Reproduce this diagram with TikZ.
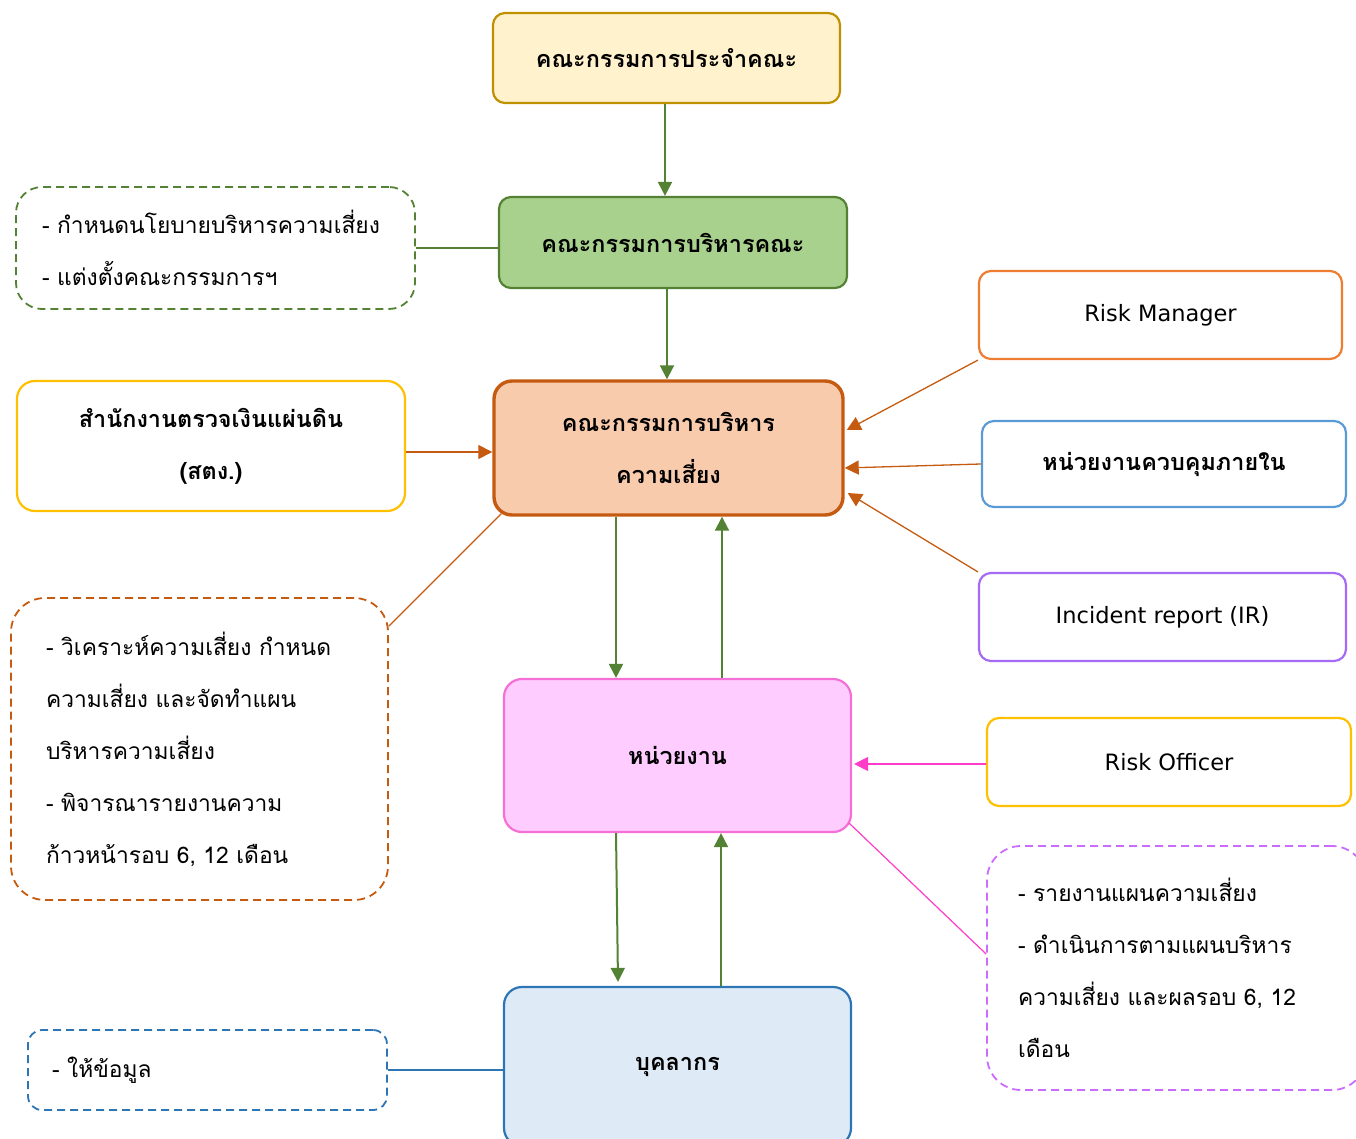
\documentclass[tikz,border=0pt]{standalone}
\usepackage{fontspec}
\setmainfont[Script=Thai]{Loma}
\newfontfamily\latinfont{DejaVu Sans}
\usetikzlibrary{arrows.meta,calc}
\definecolor{goldB}{HTML}{BF9000}
\definecolor{goldF}{HTML}{FFF2CC}
\definecolor{grnB}{HTML}{548235}
\definecolor{grnF}{HTML}{A9D18E}
\definecolor{orgD}{HTML}{C55A11}
\definecolor{orgF}{HTML}{F8CBAD}
\definecolor{yel}{HTML}{FFC000}
\definecolor{org}{HTML}{ED7D31}
\definecolor{blu}{HTML}{5B9BD5}
\definecolor{pur}{HTML}{A66BF5}
\definecolor{pnkF}{HTML}{FFCCFF}
\definecolor{pnkB}{HTML}{F46FD6}
\definecolor{pnkA}{HTML}{FF3CC8}
\definecolor{purD}{HTML}{CC6CFF}
\definecolor{bluF}{HTML}{DEEBF7}
\definecolor{bluB}{HTML}{2E75B6}
\tikzset{
  box/.style={draw, rounded corners=12pt, line width=2.2pt, align=center,
    font=\fontsize{22.8}{52}\selectfont, inner sep=0pt},
  bbox/.style={box, font=\fontsize{23.4}{52}\selectfont\bfseries},
  lbox/.style={box, font=\fontsize{22.5}{52}\selectfont\latinfont},
  dbox/.style={draw, dash pattern=on 8pt off 5pt, rounded corners=26pt, line width=1.8pt,
    align=left, font=\fontsize{22.8}{52}\selectfont, inner xsep=0pt, inner ysep=0pt},
  arr/.style={-{Triangle[length=14pt,width=14pt]}, line width=2pt},
  link/.style={line width=1.2pt}
}
\begin{document}
\begin{tikzpicture}[x=1pt,y=-1pt]
\useasboundingbox (0,0) rectangle (1356,1139);
\clip (0,0) rectangle (1356,1139);
% main column
\node[bbox, draw=goldB, fill=goldF, minimum width=347pt, minimum height=90pt] (top) at (666.5,58) {คณะกรรมการประจำคณะ};
\node[bbox, draw=grnB, fill=grnF, minimum width=348pt, minimum height=91pt] (board) at (673,242.5) {คณะกรรมการบริหารคณะ};
\node[bbox, draw=orgD, fill=orgF, line width=3.4pt, minimum width=349pt, minimum height=134pt, rounded corners=18pt] (cb) at (668.5,448) {คณะกรรมการบริหาร\\ความเสี่ยง};
\node[bbox, draw=pnkB, fill=pnkF, minimum width=347pt, minimum height=153pt, rounded corners=18pt] (unit) at (677.5,755.5) {หน่วยงาน};
\node[bbox, draw=bluB, fill=bluF, minimum width=347pt, minimum height=159pt, rounded corners=18pt] (staff) at (677.5,1066.5) {บุคลากร};
% left boxes
\node[dbox, draw=grnB, minimum width=399pt, minimum height=122pt, text width=347pt] (pol) at (215.5,248) {\mbox{- กำหนดนโยบายบริหารความเสี่ยง}\\\mbox{- แต่งตั้งคณะกรรมการฯ}};
\node[bbox, draw=yel, fill=white, minimum width=388pt, minimum height=130pt, rounded corners=18pt] (audit) at (211,446) {สำนักงานตรวจเงินแผ่นดิน\\(สตง.)};
\node[dbox, draw=orgD, minimum width=377pt, minimum height=302pt, text width=307pt, rounded corners=34pt] (an) at (199.5,749) {\mbox{- วิเคราะห์ความเสี่ยง กำหนด}\\\mbox{ความเสี่ยง และจัดทำแผน}\\\mbox{บริหารความเสี่ยง}\\\mbox{- พิจารณารายงานความ}\\\mbox{ก้าวหน้ารอบ 6, 12 เดือน}};
\node[dbox, draw=bluB, minimum width=359pt, minimum height=80pt, text width=311pt, rounded corners=14pt] (info) at (207.5,1070) {\mbox{- ให้ข้อมูล}};
% right boxes
\node[lbox, draw=org, fill=white, minimum width=363pt, minimum height=88pt] (rm) at (1160.5,315) {Risk Manager};
\node[bbox, draw=blu, fill=white, minimum width=364pt, minimum height=86pt] (ic) at (1164,464) {หน่วยงานควบคุมภายใน};
\node[lbox, draw=pur, fill=white, minimum width=367pt, minimum height=88pt] (ir) at (1162.5,617) {Incident report (IR)};
\node[lbox, draw=yel, fill=white, minimum width=364pt, minimum height=88pt] (ro) at (1169,762) {Risk Officer};
\node[dbox, draw=purD, minimum width=379pt, minimum height=244pt, text width=317pt, rounded corners=34pt] (rep) at (1176.5,968) {\mbox{- รายงานแผนความเสี่ยง}\\\mbox{- ดำเนินการตามแผนบริหาร}\\\mbox{ความเสี่ยง และผลรอบ 6, 12}\\\mbox{เดือน}};
% connectors
\draw[arr, grnB] ([xshift=-1.5pt]top.south) -- ([xshift=-1.5pt]top.south |- board.north);
\draw[arr, grnB] ([xshift=-6pt]board.south) -- ([xshift=-6pt]board.south |- cb.north);
\draw[link, grnB] (pol.east) -- (pol.east -| board.west);
\draw[arr, orgD, line width=1.3pt] ([yshift=-6pt]audit.east) -- ([yshift=-6pt]audit.east -| cb.west);
\draw[arr, orgD, line width=1.3pt] (rm.south west) -- ([yshift=18pt,xshift=2pt]cb.east);
\draw[arr, orgD, line width=1.3pt] (ic.west) -- ([yshift=-20pt]cb.east);
\draw[arr, orgD, line width=1.3pt] (ir.north west) -- ([yshift=-45pt,xshift=3pt]cb.east);
\draw[link, orgD] ([yshift=-29pt]an.north east) -- ([xshift=9pt,yshift=3pt]cb.south west);
\draw[arr, grnB] ([xshift=-52.5pt]cb.south) -- ([xshift=-52.5pt]cb.south |- unit.north);
\draw[arr, grnB] ([xshift=44.5pt]unit.north) -- ([xshift=44.5pt]unit.north |- cb.south);
\draw[arr, pnkA, line width=1.3pt] ([yshift=-2pt]ro.west) -- ([yshift=-2pt,xshift=2pt]ro.west -| unit.east);
\draw[link, pnkA] ([xshift=-3pt,yshift=10pt]unit.south east) -- ([yshift=14pt]rep.west);
\draw[arr, grnB] ([xshift=-61.5pt]unit.south) -- ([xshift=-59.5pt,yshift=4pt]staff.north);
\draw[arr, grnB] ([xshift=43.5pt]staff.north) -- ([xshift=43.5pt]staff.north |- unit.south);
\draw[link, bluB] (info.east) -- (info.east -| staff.west);
\end{tikzpicture}
\end{document}
